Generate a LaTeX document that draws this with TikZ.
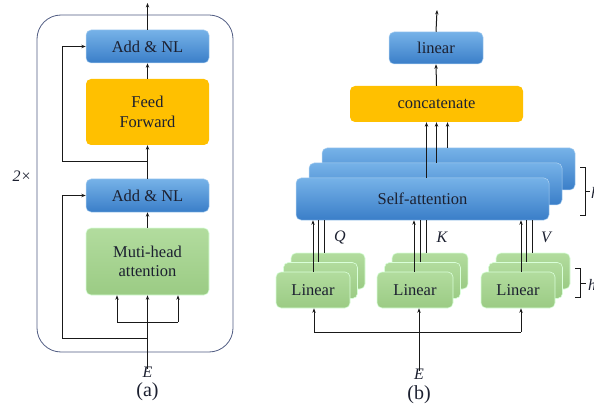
\documentclass[tikz,border=0pt]{standalone}
\usepackage{fontspec}
\setmainfont{Liberation Serif}
\usetikzlibrary{arrows.meta,calc}
\definecolor{bluetop}{RGB}{118,178,232}
\definecolor{bluebot}{RGB}{58,126,200}
\definecolor{orfill}{RGB}{255,192,0}
\definecolor{grtop}{RGB}{178,220,158}
\definecolor{grbot}{RGB}{155,203,132}
\definecolor{txt}{RGB}{28,32,48}
\definecolor{framec}{RGB}{80,92,130}
\definecolor{linec}{RGB}{25,25,25}
\tikzset{
  boxbase/.style={rectangle, rounded corners=5pt, inner sep=0pt, align=center,
    text=txt, font=\fontsize{16.5}{19.5}\selectfont},
  bluebox/.style={boxbase, top color=bluetop, bottom color=bluebot, draw=bluetop!60!white, line width=0.5pt},
  orangebox/.style={boxbase, fill=orfill},
  greenbox/.style={boxbase, top color=grtop, bottom color=grbot, draw=white!85!green, line width=0.6pt},
  arr/.style={-{Stealth[length=4.5pt,width=3.4pt]}, line width=1pt, draw=linec},
  wire/.style={line width=1pt, draw=linec},
  lbl/.style={inner sep=0pt, text=txt, font=\fontsize{16}{19}\selectfont\itshape},
  caplbl/.style={inner sep=0pt, text=txt, font=\fontsize{20}{22}\selectfont},
  brk/.style={line width=0.9pt, draw=linec}
}
\begin{document}
\begin{tikzpicture}[x=1pt,y=-1pt]
\useasboundingbox (0,0) rectangle (594,414);
% ---------------- (a) ----------------
\node[draw=framec, line width=0.8pt, rounded corners=24pt, minimum width=196pt, minimum height=337pt, inner sep=0pt] (frame) at (135,183.5) {};
\node[bluebox, minimum width=123pt, minimum height=33pt] (add2) at (147.5,46.5) {Add \& NL};
\node[orangebox, minimum width=123pt, minimum height=66pt] (ff) at (147.5,112) {Feed\\Forward};
\node[bluebox, minimum width=123pt, minimum height=33pt] (add1) at (147.5,195.5) {Add \& NL};
\node[greenbox, minimum width=123pt, minimum height=67pt] (mha) at (147.5,261.5) {Muti-head\\attention};
\node[lbl] (Ea) at (147.5,372) {E};
\node[caplbl] (capa) at (147.5,392) {(a)};
\node[lbl] (rep) at (22,176) {2×};
\coordinate (topA) at (147.5,3);
\coordinate (j1) at (147.5,162);
\coordinate (r1) at (62,162);
\coordinate (j2) at (147.5,322);
\coordinate (j2l) at (117,322);
\coordinate (j2r) at (178,322);
\coordinate (j3) at (147.5,338);
\coordinate (r2) at (62,338);
\draw[arr] (add2.north) -- (topA);
\draw[arr] (ff.north) -- (add2.south);
\draw[arr] (add1.north) -- (ff.south);
\draw[arr] (j1) -- (r1) |- (add2.west);
\draw[arr] (mha.north) -- (add1.south);
\draw[wire] ([yshift=-2pt]Ea.north) -- (j2);
\draw[wire] (j2l) -- (j2r);
\draw[arr] (j2l) -- (j2l |- mha.south);
\draw[arr] (j2) -- (mha.south);
\draw[arr] (j2r) -- (j2r |- mha.south);
\draw[arr] (j3) -- (r2) |- (add1.west);
% ---------------- (b) ----------------
\node[bluebox, minimum width=94pt, minimum height=32pt] (lin) at (436,48) {linear};
\node[orangebox, minimum width=173pt, minimum height=36pt] (cat) at (436.5,104) {concatenate};
\node[bluebox, minimum width=253pt, minimum height=42pt] (sa3) at (448.5,169) {};
\node[bluebox, minimum width=253pt, minimum height=42pt] (sa2) at (435.5,184) {};
\node[bluebox, minimum width=253pt, minimum height=42pt] (sa1) at (422.5,199) {Self-attention};
% linear stacks
\node[greenbox, minimum width=74pt, minimum height=36pt] (q3) at (328,271) {};
\node[greenbox, minimum width=74pt, minimum height=36pt] (q2) at (320.5,280.5) {};
\node[greenbox, minimum width=74pt, minimum height=36pt] (q1) at (313,290) {Linear};
\node[greenbox, minimum width=76pt, minimum height=36pt] (k3) at (430,271) {};
\node[greenbox, minimum width=76pt, minimum height=36pt] (k2) at (422.5,280.5) {};
\node[greenbox, minimum width=76pt, minimum height=36pt] (k1) at (415,290) {Linear};
\node[greenbox, minimum width=74pt, minimum height=36pt] (v3) at (533,271) {};
\node[greenbox, minimum width=74pt, minimum height=36pt] (v2) at (525.5,280.5) {};
\node[greenbox, minimum width=74pt, minimum height=36pt] (v1) at (518,290) {Linear};
\node[lbl] (Ql) at (340,237) {Q};
\node[lbl] (Kl) at (442,237) {K};
\node[lbl] (Vl) at (546,237) {V};
\node[lbl] (Eb) at (419,374) {E};
\node[caplbl] (capb) at (419,395) {(b)};
\coordinate (topB) at (437,10);
\draw[arr] (lin.north) -- (topB);
\draw[arr] (cat.north) -- (lin.south);
\coordinate (c1) at ($(cat.south)+(-10,0)$);
\coordinate (c3) at ($(cat.south)+(11,0)$);
\draw[arr] (c1 |- sa1.north) -- (c1);
\draw[arr] (cat.south |- sa2.north) -- (cat.south);
\draw[arr] (c3 |- sa3.north) -- (c3);
% Q K V wires
\coordinate (qa) at (313,0); \coordinate (qb) at (318.5,0); \coordinate (qc) at (324,0);
\coordinate (ka) at (414,0); \coordinate (kb) at (420.5,0); \coordinate (kc) at (426,0);
\coordinate (va) at (521,0); \coordinate (vb) at (526.5,0); \coordinate (vc) at (532,0);
\draw[arr] (qa |- q1.north) -- (qa |- sa1.south);
\draw[wire] (qb |- q2.north) -- (qb |- sa1.south);
\draw[wire] (qc |- q3.north) -- (qc |- sa1.south);
\draw[arr] (ka |- k1.north) -- (ka |- sa1.south);
\draw[wire] (kb |- k2.north) -- (kb |- sa1.south);
\draw[wire] (kc |- k3.north) -- (kc |- sa1.south);
\draw[arr] (va |- v1.north) -- (va |- sa1.south);
\draw[wire] (vb |- v2.north) -- (vb |- sa1.south);
\draw[wire] (vc |- v3.north) -- (vc |- sa1.south);
% input distribution
\coordinate (jbl) at (314,332);
\coordinate (jbm) at (419,332);
\coordinate (jbr) at (521,332);
\draw[wire] (jbl) -- (jbr);
\draw[arr] (jbl) -- (jbl |- q1.south);
\draw[arr] ([yshift=-2pt]Eb.north) -- (jbm |- k1.south);
\draw[arr] (jbr) -- (jbr |- v1.south);
% brackets
\coordinate (b1t) at (585,167); \coordinate (b1b) at (585,215); \coordinate (b1m) at (585,191);
\draw[brk] (580,167) -- (b1t) -- (b1b) -- (580,215);
\draw[brk] (b1m) -- (590,191);
\node[lbl, anchor=west] (h1) at (591,193) {h};
\coordinate (b2t) at (580,268); \coordinate (b2b) at (580,297); \coordinate (b2m) at (580,283);
\draw[brk] (575,268) -- (b2t) -- (b2b) -- (575,297);
\draw[brk] (b2m) -- (586,283);
\node[lbl, anchor=west] (h2) at (588,285) {h};
\end{tikzpicture}
\end{document}
